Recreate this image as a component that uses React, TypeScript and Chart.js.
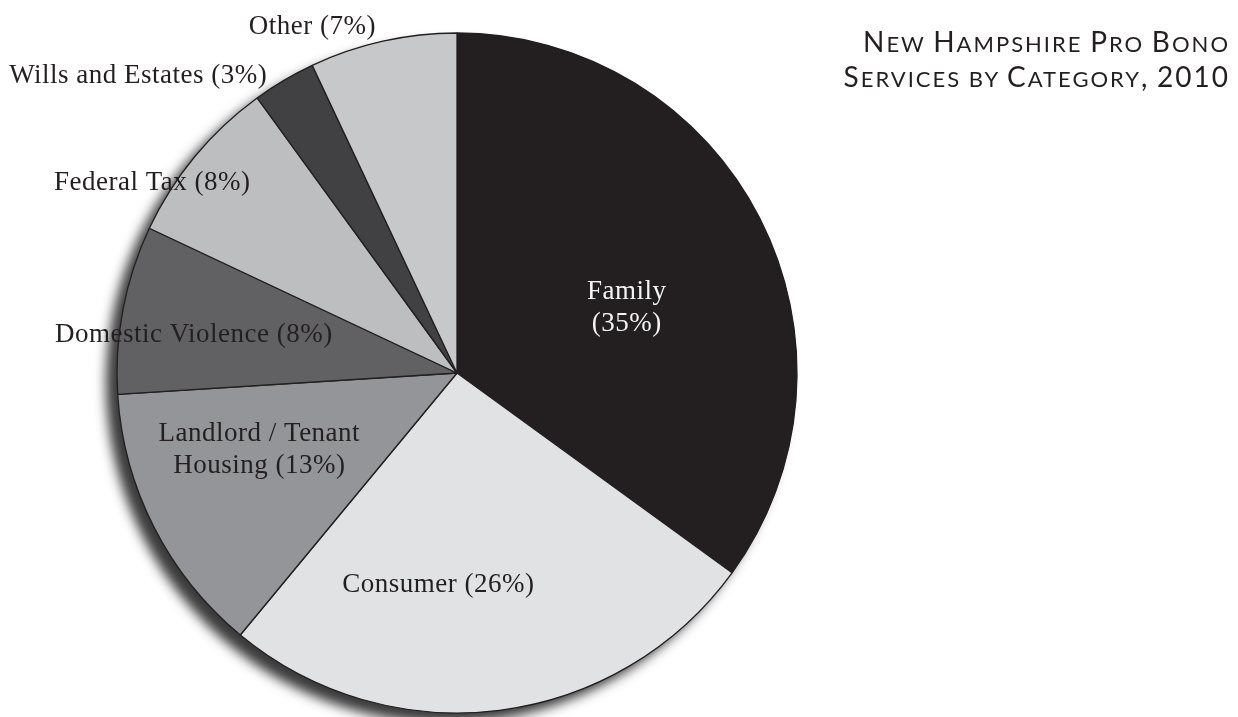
import React, { useEffect, useRef } from "react";
import { Chart, registerables } from "chart.js";

Chart.register(...registerables);

// ---- data ----
const categories = ["Family", "Consumer", "Landlord / Tenant|Housing", "Domestic Violence", "Federal Tax", "Wills and Estates", "Other"];
const shares = [35, 26, 13, 8, 8, 3, 7];
const percentOnOwnLine = [true, false, false, false, false, false, false];
const sliceColors = ["#231f20", "#e1e2e4", "#939598", "#616163", "#bcbec0", "#414143", "#c7c8ca"];
const labelColors = ["#f4f4f4", "#231f20", "#231f20", "#231f20", "#231f20", "#231f20", "#231f20"];
// label placement (layout only): angle clockwise from top (deg), distance as fraction of radius
const labelAngles = [69, 185, 248.7, 278.2, 301.9, 313, 337.3];
const labelRadii = [0.535, 0.626, 0.624, 0.782, 1.056, 1.282, 1.103];
const titleLines = ["New Hampshire Pro Bono", "Services by Category, 2010"];

function labelLinesFor(i: number): string[] {
  const parts = categories[i].split("|");
  const pct = `(${shares[i]}%)`;
  if (percentOnOwnLine[i]) return [...parts, pct];
  const lines = parts.slice();
  lines[lines.length - 1] = lines[lines.length - 1] + " " + pct;
  return lines;
}

const shadowPlugin = {
  id: "pieShadow",
  beforeDatasetsDraw(chart: any) {
    const meta = chart.getDatasetMeta(0);
    const arc = meta.data[0];
    if (!arc) return;
    const { x, y, outerRadius } = arc.getProps(["x", "y", "outerRadius"], true);
    const ctx = chart.ctx;
    ctx.save();
    ctx.shadowColor = "rgba(50,48,48,0.95)";
    ctx.shadowBlur = 12;
    ctx.shadowOffsetX = -11;
    ctx.shadowOffsetY = 10;
    ctx.fillStyle = "#4a4849";
    ctx.beginPath();
    ctx.arc(x, y, outerRadius, 0, Math.PI * 2);
    ctx.fill();
    ctx.restore();
  },
};

const labelPlugin = {
  id: "sliceLabels",
  afterDatasetsDraw(chart: any) {
    const meta = chart.getDatasetMeta(0);
    const arc0 = meta.data[0];
    if (!arc0) return;
    const { x, y, outerRadius } = arc0.getProps(["x", "y", "outerRadius"], true);
    const ctx = chart.ctx;
    ctx.save();
    ctx.font = '27px "Liberation Serif", serif';
    try {
      (ctx as any).letterSpacing = "0.5px";
    } catch (e) {}
    ctx.textAlign = "center";
    ctx.textBaseline = "middle";
    const lh = 32;
    categories.forEach((_, i) => {
      const a = (labelAngles[i] * Math.PI) / 180;
      const r = labelRadii[i] * outerRadius;
      const cx = x + Math.sin(a) * r;
      const cy = y - Math.cos(a) * r;
      const lines = labelLinesFor(i);
      ctx.fillStyle = labelColors[i];
      lines.forEach((ln, k) => {
        ctx.fillText(ln, cx, cy + (k - (lines.length - 1) / 2) * lh);
      });
    });
    ctx.restore();
  },
};

function SmallCaps({ text }: { text: string }) {
  const runs: { s: string; big: boolean }[] = [];
  for (const ch of text) {
    const big = ch !== ch.toLowerCase() || /[0-9,]/.test(ch);
    const last = runs[runs.length - 1];
    if (last && last.big === big) last.s += ch;
    else runs.push({ s: ch, big });
  }
  return (
    <>
      {runs.map((r, i) => (
        <span key={i} style={{ fontSize: r.big ? 28 : 22 }}>
          {r.big ? r.s : r.s.toUpperCase()}
        </span>
      ))}
    </>
  );
}

export default function App() {
  const ref = useRef<HTMLCanvasElement | null>(null);
  useEffect(() => {
    if (!ref.current) return;
    const chart = new Chart(ref.current, {
      type: "pie",
      data: {
        labels: categories.map((c) => c.replace("|", " ")),
        datasets: [
          {
            data: shares,
            backgroundColor: sliceColors,
            borderColor: "#231f20",
            borderWidth: 1.3,
          },
        ],
      },
      options: {
        responsive: false,
        animation: false,
        devicePixelRatio: 1,
        radius: 340,
        layout: { padding: { left: 117, right: 441, top: 33, bottom: 4 } },
        plugins: {
          legend: { display: false },
          tooltip: { enabled: false },
          title: { display: false },
        },
      },
      plugins: [shadowPlugin, labelPlugin],
    });
    return () => chart.destroy();
  }, []);

  return (
    <div style={{ position: "absolute", left: 0, top: 0, width: 1238, height: 717, background: "#fff", overflow: "hidden" }}>
      <canvas ref={ref} width={1238} height={717} style={{ width: 1238, height: 717, display: "block" }} />
      <div
        style={{
          position: "absolute",
          right: 8,
          top: 26,
          textAlign: "right",
          fontFamily: "Lato, 'Open Sans', sans-serif",
          fontWeight: 400,
          letterSpacing: "2px",
          lineHeight: "30px",
          color: "#231f20",
          whiteSpace: "nowrap",
        }}
      >
        {titleLines.map((t, i) => (
          <div key={i}>
            <SmallCaps text={t} />
          </div>
        ))}
      </div>
    </div>
  );
}
